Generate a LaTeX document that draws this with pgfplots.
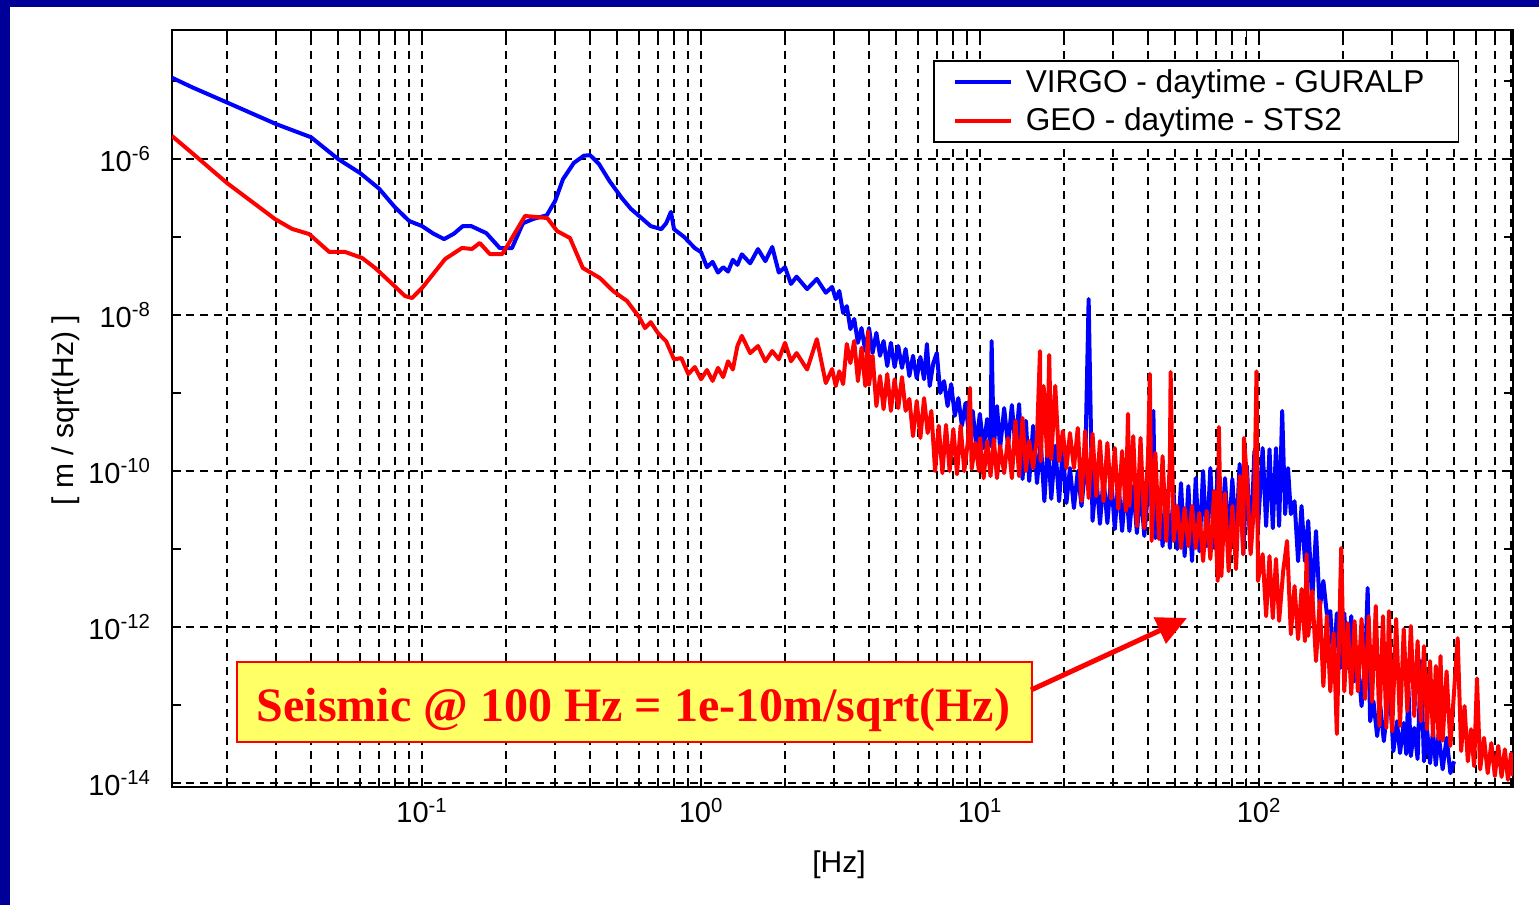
\documentclass[border=0pt]{standalone}
\usepackage{fontspec}
\setmainfont{Liberation Sans}
\newfontfamily\serifbold{Liberation Serif}
\usepackage{pgfplots}
\pgfplotsset{compat=1.18}
\usetikzlibrary{arrows.meta}
\definecolor{slideblue}{RGB}{0,0,153}
\definecolor{noteyellow}{RGB}{255,255,102}
\begin{document}
\begin{tikzpicture}
\useasboundingbox (-86pt,-59pt) rectangle (683.5pt,393.5pt);
\fill[white] (-86pt,-59pt) rectangle (683.5pt,393.5pt);
\fill[slideblue] (-86pt,-59pt) rectangle (-81pt,393.5pt);
\fill[slideblue] (-86pt,390pt) rectangle (683.5pt,393.5pt);
\begin{axis}[
  at={(0pt,0pt)}, anchor=south west,
  scale only axis, width=670.5pt, height=378.5pt,
  xmode=log, ymode=log,
  xmin=0.0127, xmax=813, ymin=8.9e-15, ymax=4.5e-5,
  xtick={0.1,1,10,100},
  xticklabels={10\textsuperscript{-1},10\textsuperscript{0},10\textsuperscript{1},10\textsuperscript{2}},
  minor xtick={0.02,0.03,0.04,0.05,0.06,0.07,0.08,0.09,0.2,0.3,0.4,0.5,0.6,0.7,0.8,0.9,2,3,4,5,6,7,8,9,20,30,40,50,60,70,80,90,200,300,400,500,600,700,800},
  ytick={1e-14,1e-12,1e-10,1e-8,1e-6},
  yticklabels={10\textsuperscript{-14},10\textsuperscript{-12},10\textsuperscript{-10},10\textsuperscript{-8},10\textsuperscript{-6}},
  minor ytick={1e-13,1e-11,1e-9,1e-7,1e-5},
  xmajorgrids=true, xminorgrids=true, ymajorgrids=true, yminorgrids=false,
  major grid style={black, line width=1pt, dash pattern=on 4pt off 3pt},
  minor grid style={black, line width=1pt, dash pattern=on 4pt off 3pt},
  tick align=inside, tick pos=both,
  major tick length=4.5pt, minor tick length=4.5pt,
  every tick/.style={black, line width=0.8pt},
  axis line style={black, line width=0.9pt},
  tick label style={font=\fontsize{14.5}{16}\selectfont},
  xticklabel style={yshift=-2pt},
  yticklabel style={xshift=-7pt},
  xlabel={[Hz]}, ylabel={[ m / sqrt(Hz) ]},
  label style={font=\fontsize{15}{18}\selectfont},
  xlabel style={at={(axis description cs:0.4974,-0.103)}, anchor=center},
  ylabel style={at={(axis description cs:-0.079,0.498)}, anchor=center},
  legend cell align=left,
  legend image code/.code={\draw[#1] (0pt,0pt) -- (28pt,0pt);},
  legend style={at={(axis description cs:0.5675,0.9604)}, anchor=north west,
    draw=black, line width=0.8pt, fill=white,
    font=\fontsize{15.8}{18}\selectfont,
    inner xsep=9.5pt, inner ysep=2pt, row sep=2pt,
    nodes={inner xsep=4pt, inner ysep=2.2pt}},
]
\addplot[blue, line width=2pt, line join=round] coordinates {
(0.0127,1.1e-5) (0.015,8.3e-6) (0.02,5.3e-6) (0.03,2.8e-6) (0.04,1.9e-6)
(0.05,1.0e-6) (0.06,6.6e-7) (0.07,4.2e-7) (0.08,2.4e-7) (0.09,1.6e-7)
(0.1,1.38e-7) (0.11,1.1e-7) (0.12,9.4e-8) (0.13,1.1e-7) (0.14,1.38e-7)
(0.15,1.38e-7) (0.17,1.12e-7) (0.19,7.2e-8) (0.21,7.2e-8) (0.23,1.5e-7)
(0.25,1.7e-7) (0.28,1.9e-7) (0.30,2.9e-7) (0.32,5.5e-7) (0.35,8.9e-7)
(0.38,1.1e-6) (0.40,1.12e-6) (0.43,8.7e-7) (0.47,5.2e-7) (0.52,3.16e-7)
(0.56,2.3e-7) (0.60,1.86e-7) (0.66,1.38e-7) (0.72,1.26e-7) (0.75,1.5e-7)
(0.78,2.1e-7) (0.80,1.26e-7) (0.87,1.0e-7) (0.95,7.2e-8)
(1.0,6.4e-8) (1.05,4.1e-8) (1.1,4.8e-8) (1.15,3.5e-8) (1.2,4.1e-8)
(1.25,3.6e-8) (1.3,5.1e-8) (1.35,4.4e-8) (1.4,6.0e-8) (1.5,4.6e-8)
(1.6,7.0e-8) (1.7,4.9e-8) (1.8,7.45e-8) (1.9,3.5e-8) (2.0,4.1e-8)
(2.1,2.5e-8) (2.2,3.1e-8) (2.4,2.15e-8) (2.6,2.9e-8) (2.8,1.93e-8)
(2.95,2.29e-8) (3.04,1.6e-8) (3.13,2.03e-8) (3.23,1.06e-8) (3.33,1.3e-8)
(3.43,6.6e-9) (3.54,8.9e-9) (3.65,4.4e-9) (3.76,6.8e-9) (3.88,3.45e-9)
(4.0,6.8e-9) (4.12,3.26e-9) (4.25,5.9e-9) (4.38,3.0e-9) (4.51,4.64e-9)
(4.65,2.22e-9) (4.79,4.4e-9) (4.94,2.15e-9) (5.09,4.0e-9) (5.25,2.1e-9)
(5.41,3.66e-9) (5.58,1.65e-9) (5.75,3.0e-9) (5.93,1.55e-9) (6.11,2.9e-9)
(6.3,1.5e-9) (6.45,4.25e-9) (6.6,1.23e-9) (6.8,2.42e-9) (7.0,3.26e-9)
(7.2,1.0e-9) (7.43,1.42e-9) (7.65,6.8e-10) (7.88,1.3e-9) (8.12,5.1e-10)
(8.36,8.6e-10) (8.61,3.8e-10) (8.87,7.45e-10) (9.14,2.8e-10) (9.41,5.9e-10)
(9.69,2.1e-10) (9.98,5.4e-10)
(10.3,1.97e-10) (10.6,4.64e-10) (10.9,2.1e-10) (11.0,4.64e-9) (11.2,1.97e-10)
(11.5,6.8e-10) (11.8,1.97e-10) (12.2,6.4e-10) (12.6,2.1e-10) (13.0,7.0e-10)
(13.4,2.0e-10) (13.8,7.2e-10) (14.2,7.9e-11) (14.6,4.4e-10) (15.0,7.45e-11)
(15.5,3.8e-10) (16.0,7.0e-11) (16.5,2.42e-10) (17.0,4.1e-11) (17.5,2.29e-10)
(18.0,4.4e-11) (18.6,2.1e-10) (19.2,4.1e-11) (19.8,1.97e-10) (20.4,3.9e-11)
(21.0,1.09e-10) (21.7,3.35e-11) (22.4,1.0e-10) (23.1,3.56e-11) (23.8,1.06e-10)
(24.5,1.6e-8) (25.3,2.29e-11) (26.1,8.6e-11) (26.9,2.1e-11) (27.7,8.1e-11)
(28.6,2.15e-11) (29.5,8.4e-11) (30.4,1.8e-11) (31.3,7.45e-11) (32.3,1.7e-11)
(33.3,7.0e-11) (34.3,1.7e-11) (35.4,6.4e-11) (36.5,1.6e-11) (37.6,6.05e-11)
(38.8,1.47e-11) (40.0,5.54e-11) (41.8,5.9e-10) (42.5,1.38e-11) (43.8,5.2e-11)
(45.1,1.09e-11) (46.5,5.54e-11) (47.9,1.03e-11) (49.4,5.2e-11) (50.9,1.0e-11)
(52.5,7.0e-11) (54.1,8.1e-12) (55.8,6.4e-11) (57.5,7.0e-12) (59.3,8.1e-11)
(61.1,9.4e-12) (63.0,1.0e-10) (64.9,1.09e-11) (66.9,1.09e-10) (69.0,1.03e-11)
(71.1,1.06e-10) (73.3,1.27e-11) (75.5,8.1e-11) (77.8,1.27e-11) (80.2,7.9e-11)
(82.7,1.34e-11) (85.2,1.23e-10) (87.8,8.6e-12) (90.5,1.16e-10) (93.3,9.4e-12)
(96.2,1.8e-10) (99.1,1.85e-11)
(103,1.97e-10) (106,1.97e-11) (109,1.9e-10) (112,1.85e-11) (115,1.97e-10)
(118,1.97e-11) (121,5.9e-10) (124,2.8e-11) (127,1.09e-10) (130,2.8e-11)
(134,4.1e-11) (138,7.0e-12) (142,3.56e-11) (146,7.0e-12) (150,2.29e-11)
(155,2.15e-12) (160,1.7e-11) (165,1.75e-12) (170,3.9e-12) (175,1.47e-12)
(180,1.6e-12) (185,3.16e-13) (190,1.5e-12) (196,3.0e-13) (202,1.5e-12)
(208,3.0e-13) (214,1.38e-12) (220,2.03e-13) (226,3.66e-13) (233,9.7e-14)
(240,3.16e-13) (245,3.16e-12) (250,6.2e-14) (257,1.12e-13) (265,4.0e-14)
(272,9.7e-14) (280,3.45e-14) (287,7.9e-14) (295,1.23e-13) (303,2.57e-14)
(312,6.2e-14) (320,2.42e-14) (330,5.9e-14) (337,2.35e-14) (343,1.65e-13)
(350,2.22e-14) (360,5.1e-14) (370,2.03e-14) (380,3.66e-13) (390,1.9e-14)
(400,4.9e-14) (410,1.8e-14) (420,4.64e-14) (430,1.7e-14) (440,4.25e-14)
(455,1.5e-14) (470,3.8e-14) (485,1.34e-14) (500,1.9e-14)
};
\addlegendentry{\hspace*{2.5pt}VIRGO - daytime - GURALP\hspace*{3.5pt}}
\addplot[red, line width=2pt, line join=round] coordinates {
(0.0127,1.97e-6) (0.015,1.19e-6) (0.02,4.92e-7) (0.0297,1.70e-7) (0.0342,1.27e-7)
(0.0394,1.09e-7) (0.0465,6.43e-8) (0.053,6.43e-8) (0.061,5.38e-8) (0.0679,4.01e-8)
(0.0762,2.73e-8) (0.0869,1.75e-8) (0.0921,1.65e-8) (0.1,2.22e-8) (0.121,5.22e-8)
(0.139,7.23e-8) (0.151,7.02e-8) (0.161,8.38e-8) (0.175,6.05e-8) (0.194,6.05e-8)
(0.21,9.7e-8) (0.234,1.86e-7) (0.281,1.75e-7) (0.305,1.19e-7) (0.339,9.7e-8)
(0.377,4.01e-8) (0.434,2.98e-8) (0.484,2.03e-8) (0.543,1.51e-8)
(0.6,9.4e-9) (0.63,6.8e-9) (0.66,8.1e-9) (0.7,5.9e-9) (0.75,4.6e-9)
(0.8,2.7e-9) (0.85,2.8e-9) (0.9,1.75e-9) (0.95,2.15e-9) (1.0,1.5e-9)
(1.05,1.97e-9) (1.1,1.43e-9) (1.15,2.1e-9) (1.2,1.6e-9) (1.25,2.55e-9)
(1.3,2.0e-9) (1.35,4.0e-9) (1.4,5.4e-9) (1.5,3.25e-9) (1.6,4.0e-9)
(1.7,2.55e-9) (1.8,3.45e-9) (1.9,2.7e-9) (2.0,4.4e-9) (2.1,2.55e-9)
(2.2,3.25e-9) (2.4,2.0e-9) (2.6,4.9e-9) (2.8,1.34e-9)
(2.95,2.03e-9) (3.04,1.23e-9) (3.13,1.9e-9) (3.23,1.3e-9) (3.33,4.25e-9)
(3.43,2.42e-9) (3.54,4.64e-9) (3.65,1.42e-9) (3.76,3.8e-9) (3.88,1.23e-9)
(3.97,6.2e-9) (4.0,1.27e-9) (4.12,3.0e-9) (4.25,6.8e-10) (4.38,1.65e-9)
(4.51,6.2e-10) (4.65,1.75e-9) (4.79,5.9e-10) (4.94,1.5e-9) (5.09,6.4e-10)
(5.25,1.6e-9) (5.41,5.9e-10) (5.58,8.4e-10) (5.75,2.8e-10) (5.93,7.9e-10)
(6.11,2.65e-10) (6.3,8.6e-10) (6.49,3.07e-10) (6.69,5.9e-10) (6.9,1.0e-10)
(7.11,3.8e-10) (7.33,9.4e-11) (7.55,3.9e-10) (7.78,1.0e-10) (8.02,3.45e-10)
(8.27,9.1e-11) (8.52,3.8e-10) (8.78,1.0e-10) (9.05,2.42e-10) (9.2,1.16e-9)
(9.33,1.06e-10) (9.62,2.29e-10) (9.91,1.0e-10)
(10.0,2.65e-10) (10.3,8.1e-11) (10.6,2.42e-10) (10.9,8.6e-11) (11.2,2.57e-10)
(11.5,8.1e-11) (11.8,2.1e-10) (12.2,9.4e-11) (12.6,2.65e-10) (13.0,8.1e-11)
(13.4,4.4e-10) (13.8,8.6e-11) (14.2,4.78e-10) (14.6,1.0e-10) (15.0,2.42e-10)
(15.5,1.09e-10) (16.0,2.65e-10) (16.4,3.45e-9) (16.5,1.34e-10) (16.9,1.23e-9)
(17.4,1.55e-10) (17.7,3.07e-9) (18.0,1.42e-10) (18.6,1.23e-9) (19.2,1.34e-10)
(19.8,3.26e-10) (20.4,1.09e-10) (21.0,3.07e-10) (21.7,1.09e-10) (22.4,3.56e-10)
(23.1,4.1e-11) (23.8,3.26e-10) (24.5,4.5e-11) (25.3,3.0e-10) (26.1,4.78e-11)
(26.9,2.42e-10) (27.7,4.1e-11) (28.6,2.29e-10) (29.5,4.4e-11) (30.4,1.97e-10)
(31.3,3.26e-11) (32.3,1.8e-10) (33.3,3.07e-11) (33.9,5.4e-10) (34.3,3.56e-11)
(35.4,2.8e-10) (36.5,1.97e-11) (37.6,2.65e-10) (38.8,1.85e-11) (40.0,1.55e-10)
(40.6,1.75e-9) (41.2,1.27e-11) (42.5,1.7e-10) (43.8,1.34e-11) (45.1,1.55e-10)
(46.5,1.27e-11) (47.9,1.34e-10) (48.2,1.86e-9) (49.4,1.27e-11) (50.9,3.56e-11)
(52.5,1.03e-11) (54.1,3.35e-11) (55.8,1.09e-11) (57.5,3.56e-11) (59.3,1.03e-11)
(61.1,2.9e-11) (63.0,7.0e-12) (64.9,3.07e-11) (66.9,7.45e-12) (69.0,5.54e-11)
(71.1,3.9e-12) (71.8,3.66e-10) (73.3,4.5e-12) (75.5,5.2e-11) (77.8,5.2e-12)
(80.2,3.56e-11) (82.7,5.54e-12) (85.2,8.6e-11) (87.8,8.6e-12) (88.3,2.65e-10)
(90.5,7.9e-11) (93.3,8.6e-12) (96.2,4.1e-11) (97.9,1.9e-9) (99.1,3.9e-12)
(103,8.6e-12) (106,1.38e-12) (109,8.1e-12) (112,1.3e-12) (115,7.45e-12)
(118,1.2e-12) (122,5.2e-12) (126,1.27e-11) (130,8.1e-13) (134,3.35e-12)
(138,7.0e-13) (142,3.07e-12) (146,6.6e-13) (148,8.6e-12) (150,7.7e-13)
(155,2.9e-12) (160,3.66e-13) (165,2.15e-12) (170,1.75e-13) (175,1.38e-12)
(180,1.5e-13) (185,8.4e-13) (190,4.25e-14) (197,1.03e-11) (202,1.5e-13)
(208,1.12e-12) (214,1.38e-13) (220,1.19e-12) (226,1.5e-13) (233,1.27e-12)
(240,1.2e-13) (247,1.38e-12) (254,1.1e-13) (262,1.86e-12) (270,5.4e-14)
(278,1.38e-12) (286,5.1e-14) (292,1.6e-12) (300,4.64e-14) (310,1.27e-12)
(320,5.4e-14) (330,9.4e-13) (340,8.4e-14) (350,1.03e-12) (360,7.2e-14)
(370,6.6e-13) (380,6.2e-14) (390,5.7e-13) (400,4.9e-14) (410,3.66e-13)
(420,4.0e-14) (430,3.16e-13) (440,3.66e-14) (447,4.25e-13) (455,3.5e-14)
(470,2.7e-13) (485,3.0e-14) (500,1.5e-13) (515,7.2e-13) (530,2.57e-14)
(545,9.7e-14) (560,1.9e-14) (575,4.9e-14) (590,1.65e-14) (604,2.2e-13)
(620,1.5e-14) (640,3.8e-14) (660,1.34e-14) (680,3.26e-14) (700,1.23e-14)
(720,3.0e-14) (740,1.2e-14) (760,2.7e-14) (780,1.1e-14) (800,2.4e-14)
(813,1.23e-14)
};
\addlegendentry{\hspace*{2.5pt}GEO - daytime - STS2}
\end{axis}
\node[draw=red, line width=1pt, fill=noteyellow, minimum width=397.5pt, minimum height=40pt, anchor=south west, inner sep=0pt] at (32pt,22pt) {};
\node[anchor=base, inner sep=0pt] at (230.75pt,32.5pt)
  {\serifbold\bfseries\fontsize{24}{28}\selectfont\color{red}Seismic @ 100 Hz = 1e-10m/sqrt(Hz)};
\draw[red, line width=2.5pt, -{Triangle[length=15pt,width=14pt]}] (429.5pt,48.5pt) -- (507.5pt,84.5pt);
\end{tikzpicture}
\end{document}
